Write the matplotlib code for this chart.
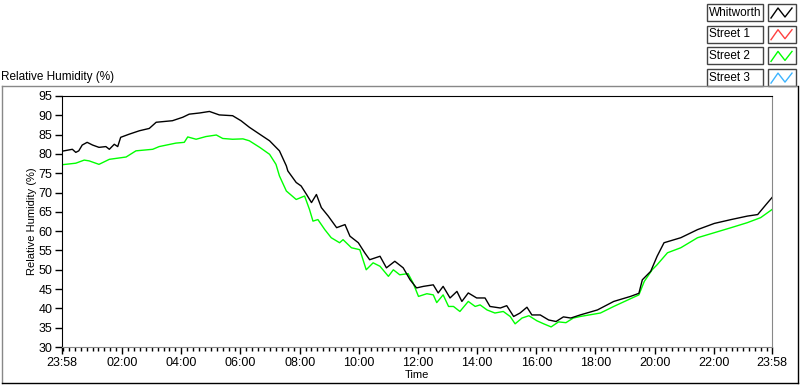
import numpy as np
import matplotlib.pyplot as plt
from matplotlib.lines import Line2D
from matplotlib.patches import Rectangle
from matplotlib.ticker import FixedLocator, MultipleLocator

# time in minutes after midnight (23:58 of the previous day = -2)
whitworth_t = [-2, 19, 26, 32, 39, 49, 60, 73, 87, 94, 104, 111, 117, 134, 155, 175,
               189, 222, 243, 256, 277, 297, 317, 344, 361, 378, 399, 419, 439, 453,
               456, 473, 483, 494, 504, 514, 524, 538, 555, 572, 582, 599, 612, 622,
               643, 656, 673, 690, 704, 717, 731, 751, 761, 771, 785, 799, 809, 822,
               839, 856, 866, 887, 900, 914, 927, 941, 951, 968, 985, 1000, 1015, 1030,
               1049, 1084, 1117, 1151, 1168, 1175, 1192, 1205, 1219, 1253, 1287, 1321,
               1355, 1388, 1409, 1426, 1438]
whitworth_rh = [80.7, 81.2, 80.4, 80.8, 82.3, 83.0, 82.3, 81.7, 81.9, 81.2, 82.5, 81.9,
                84.3, 85.1, 86.0, 86.6, 88.2, 88.6, 89.5, 90.3, 90.6, 91.0, 90.1, 89.9,
                88.6, 86.9, 85.1, 83.4, 80.8, 76.9, 75.6, 72.6, 71.7, 69.5, 67.4, 69.5,
                66.1, 63.9, 60.9, 61.7, 58.7, 57.0, 54.4, 52.6, 53.5, 50.5, 52.2, 50.5,
                47.4, 45.3, 45.7, 46.1, 44.0, 45.7, 42.7, 44.4, 41.8, 44.0, 42.7, 42.7,
                40.5, 40.1, 40.7, 37.9, 38.8, 40.3, 38.3, 38.3, 37.0, 36.6, 37.8, 37.5,
                38.3, 39.6, 41.8, 43.1, 43.9, 47.4, 49.6, 53.5, 57.0, 58.3, 60.4, 62.0,
                63.0, 63.9, 64.3, 66.9, 68.7]

street2_t = [-2, 26, 43, 53, 73, 94, 128, 148, 182, 195, 229, 246, 253, 270, 290, 311,
             324, 344, 365, 378, 399, 419, 432, 439, 453, 473, 490, 500, 507, 517, 531,
             544, 561, 568, 585, 602, 615, 629, 643, 660, 670, 683, 700, 710, 721, 738,
             751, 758, 771, 782, 792, 805, 822, 836, 846, 860, 876, 893, 907, 917, 931,
             945, 961, 975, 990, 1005, 1020, 1035, 1049, 1090, 1117, 1168, 1179, 1195,
             1205, 1226, 1253, 1287, 1321, 1355, 1388, 1415, 1438]
street2_rh = [77.2, 77.6, 78.4, 78.2, 77.3, 78.6, 79.2, 80.8, 81.2, 81.9, 82.8, 83.0,
              84.4, 83.8, 84.5, 84.9, 84.0, 83.8, 83.9, 83.4, 81.7, 79.9, 77.3, 74.3,
              70.4, 68.2, 69.1, 65.6, 62.6, 63.0, 60.4, 58.3, 57.0, 57.8, 55.7, 55.2,
              50.0, 51.8, 50.9, 48.3, 50.0, 48.7, 49.0, 46.6, 43.1, 43.8, 43.5, 41.5,
              43.5, 40.5, 40.5, 39.2, 41.8, 40.5, 40.9, 39.6, 38.8, 39.2, 37.9, 36.0,
              37.5, 38.1, 36.8, 36.0, 35.2, 36.5, 36.3, 37.5, 37.9, 38.8, 40.5, 43.5,
              47.0, 50.0, 51.3, 54.4, 55.7, 58.3, 59.6, 60.9, 62.2, 63.5, 65.6]

tick_pos = [-2, 120, 240, 360, 480, 600, 720, 840, 960, 1080, 1200, 1320, 1438]
tick_lbl = ['23:58', '02:00', '04:00', '06:00', '08:00', '10:00', '12:00',
            '14:00', '16:00', '18:00', '20:00', '22:00', '23:58']

legend_names = ['Whitworth', 'Street 1', 'Street 2', 'Street 3']
legend_colors = ['black', '#ff4040', '#00ff00', '#3cb4ff']

plt.rcParams['font.family'] = ['Liberation Sans', 'DejaVu Sans']

W, H = 800, 386
fig = plt.figure(figsize=(8, 3.86), dpi=100)


def px(x, y):
    return x / W, 1 - y / H


ax = fig.add_axes([62 / W, 1 - 347 / H, 710 / W, 251 / H])
ax.plot(street2_t, street2_rh, color='#00ff00', lw=1.0)
ax.plot(whitworth_t, whitworth_rh, color='black', lw=1.0)

ax.set_xlim(-2, 1438)
ax.set_ylim(30, 95)
ax.xaxis.set_major_locator(FixedLocator(tick_pos))
ax.set_xticklabels(tick_lbl)
ax.xaxis.set_minor_locator(MultipleLocator(12))
ax.yaxis.set_major_locator(MultipleLocator(5))
ax.tick_params(axis='both', which='major', labelsize=9, length=5, width=1, pad=2)
ax.tick_params(axis='x', which='minor', length=3, width=1)
for s in ['left', 'top']:
    ax.spines[s].set_color('black')
for s in ['right', 'bottom']:
    ax.spines[s].set_color('#888888')
ax.set_xlabel('Time', fontsize=8, labelpad=1)
ax.set_ylabel('Relative Humidity (%)', fontsize=8, labelpad=1)

fig.text(*px(1, 77), 'Relative Humidity (%)', fontsize=8.5, va='center', ha='left')

# outer frame
fig.add_artist(Line2D([2 / W, 797 / W], [1 - 86 / H] * 2, color='#888888', lw=1))
fig.add_artist(Line2D([2 / W] * 2, [1 - 86 / H, 1 - 383 / H], color='#888888', lw=1))
fig.add_artist(Line2D([2 / W, 798 / W], [1 - 383 / H] * 2, color='black', lw=1))
fig.add_artist(Line2D([798 / W] * 2, [1 - 86 / H, 1 - 383 / H], color='black', lw=1))

# legend
for i, (name, c) in enumerate(zip(legend_names, legend_colors)):
    y0 = 4 + i * 21.7
    x0, y1 = px(707, y0 + 17)
    fig.add_artist(Rectangle((x0, y1), 56 / W, 17 / H, transform=fig.transFigure,
                             facecolor='white', edgecolor='#444444', lw=1))
    fig.text(*px(709, y0 + 8.5), name, fontsize=8.5, va='center', ha='left')
    x0, y1 = px(768, y0 + 17)
    fig.add_artist(Rectangle((x0, y1), 28 / W, 17 / H, transform=fig.transFigure,
                             facecolor='white', edgecolor='#444444', lw=1))
    zx = [771, 778, 785, 792]
    zy = [y0 + 14, y0 + 4, y0 + 13, y0 + 4]
    fig.add_artist(Line2D([v / W for v in zx], [1 - v / H for v in zy],
                          color=c, lw=1))

fig.savefig('out.png', dpi=100, facecolor='white')
